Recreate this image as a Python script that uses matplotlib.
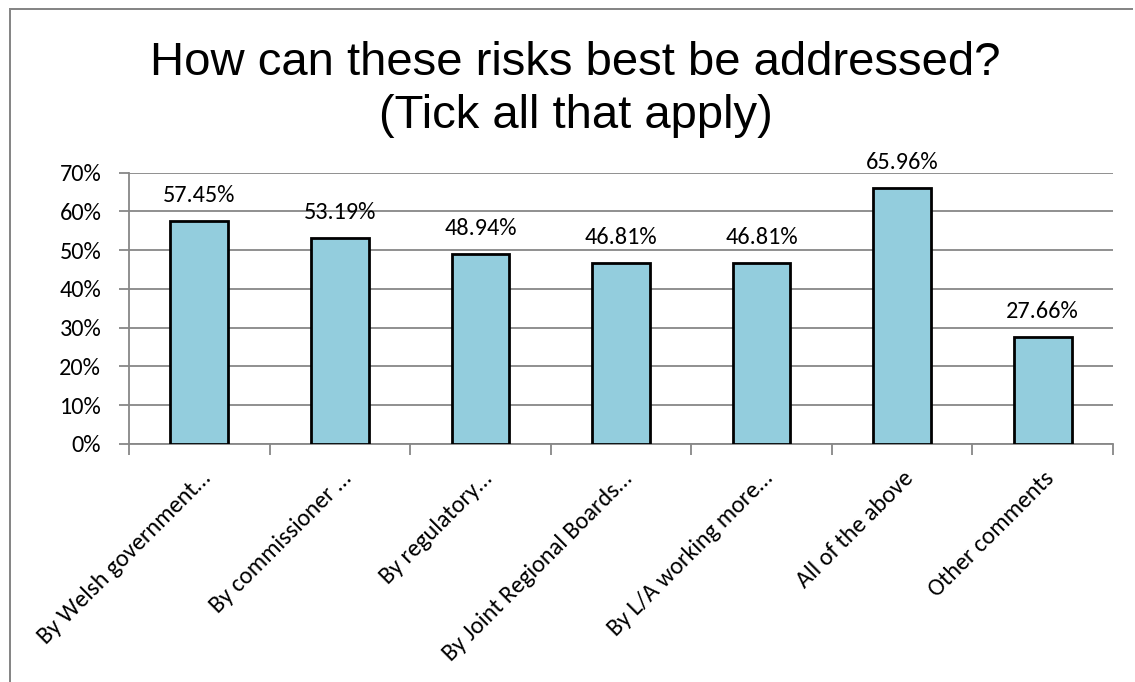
import matplotlib
matplotlib.use("Agg")
import matplotlib.pyplot as plt
from matplotlib.patches import Rectangle
from matplotlib.ticker import FuncFormatter
from matplotlib.transforms import ScaledTranslation, blended_transform_factory
from matplotlib import font_manager

categories = [
    "By Welsh government…",
    "By commissioner …",
    "By regulatory…",
    "By Joint Regional Boards…",
    "By L/A working more…",
    "All of the above",
    "Other comments",
]
values = [57.45, 53.19, 48.94, 46.81, 46.81, 65.96, 27.66]
yticks = [0, 10, 20, 30, 40, 50, 60, 70]
title_lines = ["How can these risks best be addressed?", "(Tick all that apply)"]

avail = {f.name for f in font_manager.fontManager.ttflist}
body_font = [f for f in ["Carlito", "Lato", "Open Sans", "DejaVu Sans"] if f in avail]
title_font = [f for f in ["Liberation Sans", "DejaVu Sans"] if f in avail]

W, H = 1135, 682
DPI = 100
fig = plt.figure(figsize=(W / DPI, H / DPI), dpi=DPI)
fig.patch.set_facecolor("white")

# outer border: only the left and top edges show in the reference (filled strips)
fig.add_artist(Rectangle((9 / W, 0), 2 / W, 1 - 8 / H, transform=fig.transFigure,
                         facecolor="#868686", edgecolor="none", linewidth=0))
fig.add_artist(Rectangle((9 / W, 1 - 10 / H), (W - 2 - 9) / W, 2 / H,
                         transform=fig.transFigure,
                         facecolor="#868686", edgecolor="none", linewidth=0))

ax = fig.add_axes([129 / W, 1 - 444 / H, (1113 - 129) / W, (444 - 172.7) / H])
x = list(range(len(categories)))
ax.bar(x, values, width=0.41, color="#93CDDD", edgecolor="black",
       linewidth=2, zorder=3)

px = 72 / DPI  # points per pixel
fs = 17.5
for xi, v in zip(x, values):
    ax.annotate(f"{v:.2f}%", (xi, v), xytext=(0, 19 * px), textcoords="offset points",
                ha="center", va="baseline", fontsize=fs, family=body_font, color="black")

ax.set_xlim(-0.5, len(categories) - 0.5)
ax.set_ylim(0, 70)
ax.set_yticks(yticks)
ax.yaxis.set_major_formatter(FuncFormatter(lambda v, p: f"{v:.0f}%"))
ax.grid(axis="y", color="#878787", linewidth=1.3, zorder=0)
ax.set_axisbelow(True)

ax.spines["top"].set_visible(False)
ax.spines["right"].set_visible(False)
for s in ["left", "bottom"]:
    ax.spines[s].set_color("#878787")
    ax.spines[s].set_linewidth(1.3)

ax.tick_params(axis="y", length=7, width=1.3, color="#878787", labelsize=fs,
               labelcolor="black", pad=18 * px)
for lab in ax.get_yticklabels():
    lab.set_family(body_font)

ax.set_xticks([i - 0.5 for i in range(len(categories) + 1)])
ax.set_xticklabels([])
ax.tick_params(axis="x", length=8, width=1.3, color="#878787")

trans = blended_transform_factory(ax.transData, ax.transAxes) + \
    ScaledTranslation(8 / DPI, -31 / DPI, fig.dpi_scale_trans)
for xi, lab in zip(x, categories):
    ax.text(xi, 0, lab, transform=trans, rotation=45, ha="right", va="center",
            rotation_mode="anchor", fontsize=fs, family=body_font, color="black")

for i, line in enumerate(title_lines):
    fig.text(0.5 + 8 / W, 1 - (75 + 53 * i) / H, line, ha="center", va="baseline",
             fontsize=34, family=title_font, color="black")

fig.savefig("out.png", dpi=DPI, facecolor="white")
